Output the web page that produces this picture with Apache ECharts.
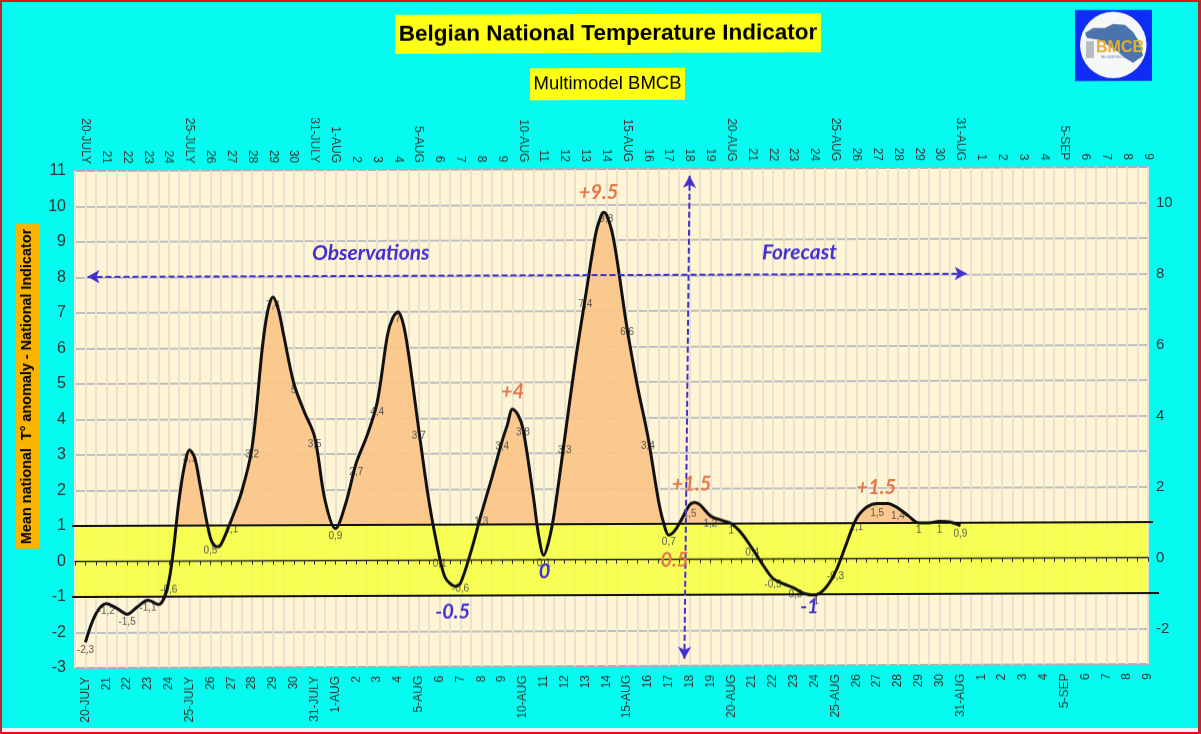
<!DOCTYPE html>
<html><head><meta charset="utf-8">
<style>
html,body{margin:0;padding:0;width:1201px;height:734px;overflow:hidden;background:#05fbef}
#chart{position:absolute;left:0;top:0;width:1201px;height:734px;transform-origin:75px 0;transform:skewY(-0.21deg)}
.b{position:absolute}
</style>
<script src="https://cdn.jsdelivr.net/npm/echarts@6/dist/echarts.min.js"></script>
</head><body>
<div id="chart"></div>
<div class="b" style="left:0;top:728px;width:1201px;height:4px;background:#f0f4f4"></div>
<div class="b" style="left:0;top:0;width:1201px;height:2px;background:#e01018"></div>
<div class="b" style="left:0;top:732px;width:1201px;height:2px;background:#e01018"></div>
<div class="b" style="left:0;top:0;width:2px;height:734px;background:#b02a30"></div>
<div class="b" style="right:0;top:0;width:3px;height:734px;background:#b02a30"></div>
<script>
const tickLabels = ['20-JULY','21','22','23','24','25-JULY','26','27','28','29','30','31-JULY','1-AUG','2','3','4','5-AUG','6','7','8','9','10-AUG','11','12','13','14','15-AUG','16','17','18','19','20-AUG','21','22','23','24','25-AUG','26','27','28','29','30','31-AUG','1','2','3','4','5-SEP','6','7','8','9'];
const dailyValues = [-2.3,-1.2,-1.5,-1.1,-0.6,3.1,0.5,1.1,3.2,7.4,5,3.5,0.9,2.7,4.4,7,3.7,0.1,-0.6,1.3,3.4,3.8,0.1,3.3,7.4,9.8,6.6,3.4,0.7,1.5,1.2,1,0.4,-0.5,-0.8,-1,-0.3,1.1,1.5,1.4,1,1,0.9];
const halfDayValues = [-2.28,-1.48,-1.19,-1.32,-1.49,-1.28,-1.1,-1.22,-0.58,1.75,3.13,2.15,0.65,0.46,1.15,1.95,3.2,6.05,7.43,6.4,5,4.2,3.49,1.7,0.9,1.62,2.75,3.49,4.44,6.35,7.0,5.85,3.68,1.62,0.07,-0.66,-0.65,0.23,1.3,2.3,3.35,4.25,3.7,1.78,0.13,1.3,3.4,5.53,7.4,9.2,9.72,8.5,6.5,4.87,3.45,1.67,0.68,1.0,1.53,1.53,1.22,1.1,1.0,0.72,0.3,-0.15,-0.55,-0.7,-0.82,-0.98,-1.02,-0.84,-0.37,0.38,1.12,1.45,1.55,1.55,1.42,1.2,1.0,1.0,1.04,1.02,0.92];
const extraDays = [4.75,5.25,6.3,8.75,9.25,14.75,15.25,17.25,17.75,20.25,20.75,21.75,22.25,24.75,24.87,25.25,27.75,28.25,29.25];
const extraValues = [2.67,2.9,0.4,7.04,7.1,6.83,6.67,-0.47,-0.74,3.8,4.1,0.7,0.55,9.68,9.78,9.29,1.03,0.78,1.6];
const noteTexts = ['Observations','Forecast','+9.5','+4','+1.5','0.5','+1.5','-0.5','0','-1'];
const noteDays = [13.7,34.27,24.63,20.5,29.09,28.27,37.96,17.63,22.04,34.75];
const noteLevels = [8.66,8.62,10.35,4.73,2.12,-0.02,1.99,-1.46,-0.34,-1.36];
const noteWarm = [false,false,true,true,true,true,true,false,false,false];
const bandLevels = [-1,1];
const yTop = 11, yBottom = -3, lastDay = 51;

const BLUE='#4030d0', WARM='#e4784c', TEXT='#333', CLEAR='rgba(0,0,0,0)';
const curvePts = halfDayValues.map((v,i)=>[i/2,v]).concat(extraDays.map((d,i)=>[d,extraValues[i]])).sort((a,b)=>a[0]-b[0]);
const sk=(x,y)=>y+(x-75)*0.00367;
const xLabel=v=>Number.isInteger(v)?tickLabels[v]:'';
const xBase={type:'value',min:-0.5,max:lastDay,interval:0.5,gridIndex:0,splitLine:{show:false},axisTick:{show:false},axisLine:{show:false,onZero:false}};
const labelAxis=pos=>Object.assign({},xBase,{position:pos,axisLabel:{show:true,rotate:90,interval:0,formatter:xLabel,fontFamily:'Liberation Sans',fontSize:12,color:TEXT,margin:pos==='top'?7:9,hideOverlap:false,showMinLabel:true,showMaxLabel:true}});
const boxText=(cx,cy,w,h,text,font,fill,rot)=>({type:'group',x:cx,y:sk(cx,cy),rotation:rot||0,silent:true,z:20,children:[
 {type:'rect',shape:{x:-w/2,y:-h/2,width:w,height:h},style:{fill}},
 {type:'text',style:{x:0,y:0,text,font,fill:'#000',align:'center',verticalAlign:'middle'}}]});
const stub=(x1,x2,y)=>({type:'line',silent:true,z:20,shape:{x1,y1:y,x2,y2:y},style:{stroke:'#111',lineWidth:2}});
const option={
 animation:false,
 backgroundColor:'transparent',
 grid:{left:75,top:171,width:1073,height:497,show:true,backgroundColor:'#fff4d3',borderColor:'#b9b9b9',borderWidth:2,containLabel:false},
 xAxis:[
  Object.assign({},xBase,{position:'bottom',splitLine:{show:true,lineStyle:{color:'#e8e2d3',width:2}},axisLabel:labelAxis('bottom').axisLabel}),
  labelAxis('top'),
  Object.assign({},xBase,{position:'bottom',z:5,axisLine:{show:true,onZero:true,lineStyle:{color:'#2a2a20',width:1.4}},axisTick:{show:true,length:4,lineStyle:{color:'#2a2a20',width:1}},axisLabel:{show:false}})
 ],
 yAxis:[
  {type:'value',position:'left',min:yBottom,max:yTop,interval:1,axisLine:{show:false},axisTick:{show:false},splitLine:{show:true,lineStyle:{color:'#adadb8',width:1.5}},axisLabel:{fontFamily:'Liberation Sans',fontSize:16,color:TEXT,margin:9,showMinLabel:true,showMaxLabel:true}},
  {type:'value',position:'right',min:yBottom,max:yTop,interval:1,axisLine:{show:false},axisTick:{show:false},splitLine:{show:false},axisLabel:{fontFamily:'Liberation Sans',fontSize:15,color:TEXT,margin:8,formatter:v=>v%2===0?String(v):''}}
 ],
 visualMap:[{show:false,seriesIndex:0,dimension:1,pieces:[{min:1,max:20,color:'#fbc588'},{min:-20,max:1,color:CLEAR}]}],
 series:[
  {name:'warm',type:'line',smooth:0.33,data:curvePts,showSymbol:false,silent:true,lineStyle:{width:0,opacity:0},areaStyle:{origin:bandLevels[1],opacity:0.93},z:3},
  {name:'labels',type:'scatter',data:dailyValues.map((v,i)=>[i,v]),symbolSize:1,silent:true,z:4,itemStyle:{color:CLEAR,opacity:1},label:{show:true,position:'bottom',distance:2,fontFamily:'Liberation Sans',fontSize:10,color:'#555',formatter:p=>String(p.value[1]).replace('.',',')}},
  {name:'curve',type:'line',smooth:0.33,data:curvePts,showSymbol:false,silent:true,lineStyle:{color:'#111',width:3},z:6},
  {name:'upper',type:'line',data:[[-0.5,bandLevels[1]],[lastDay,bandLevels[1]]],showSymbol:false,silent:true,lineStyle:{color:'#111',width:2},z:5,
    markArea:{silent:true,z:2,itemStyle:{color:'rgba(245,255,60,0.84)'},data:[[{coord:[-0.5,bandLevels[0]]},{coord:[lastDay,bandLevels[1]]}]]}},
  {name:'lower',type:'line',data:[[-0.5,bandLevels[0]],[lastDay,bandLevels[0]]],showSymbol:false,silent:true,lineStyle:{color:'#111',width:2},z:5,
    markLine:{silent:true,z:7,symbol:['arrow','arrow'],symbolSize:[10,12],label:{show:false},lineStyle:{color:BLUE,type:[6,3],width:2},data:[
    [{coord:[0.1,8.02]},{coord:[42.3,8.02]}],
    [{coord:[29,10.8]},{coord:[28.75,-2.8]}]
  ]}},
  {name:'notes',type:'scatter',symbolSize:1,silent:true,z:8,itemStyle:{color:CLEAR,opacity:1},label:{show:true,position:'inside',fontFamily:'Lato',fontWeight:'bold',fontStyle:'italic',fontSize:20,color:BLUE,formatter:p=>noteTexts[p.dataIndex]},
   data:noteDays.map((d,i)=>({value:[d,noteLevels[i]],label:{color:noteWarm[i]?WARM:BLUE,fontSize:i<2?21:20}}))}
 ],
 graphic:[
  stub(72,76,526),stub(1147,1153,526),stub(72,76,597),stub(1147,1159,597),
  boxText(608,33.5,426,39,'Belgian National Temperature Indicator','bold 22.5px "Liberation Sans"','#ffff14'),
  boxText(607.5,84,155,32,'Multimodel BMCB','18.5px "Liberation Sans"','#ffff14'),
  boxText(27.5,386.5,325,25,'Mean national  T° anomaly - National Indicator','bold 14.4px "Liberation Sans"','#f9b400',Math.PI/2),
  {type:'group',x:0,y:(1113-75)*0.00367,silent:true,z:20,children:[
   {type:'rect',shape:{x:1075,y:10,width:77,height:71},style:{fill:'#0e2cf5'}},
   {type:'circle',shape:{cx:1113.3,cy:45,r:33.3},style:{fill:'#f6f8f8'}},
   {type:'polygon',shape:{points:[[1085,33],[1093,28],[1105,28],[1113,24],[1125,25],[1133,32],[1138,40],[1142,52],[1143,56],[1133,63],[1125,58],[1118,52],[1100,40],[1087,38]]},style:{fill:'#4c74ac'}},
   {type:'rect',shape:{x:1086,y:41,width:8,height:17},style:{fill:'#b8bcc0'}},
   {type:'text',style:{x:1120,y:48,text:'BMCB',font:'bold 16px "Liberation Sans"',fill:'#e6b030',align:'center',verticalAlign:'middle'}},
   {type:'text',style:{x:1118,y:57,text:'BELGIUM MULTIMODEL',font:'3px "Liberation Sans"',fill:'#5a7ab0',align:'center',verticalAlign:'middle'}}
  ]}
 ]
};
const chart=echarts.init(document.getElementById('chart'),null,{renderer:'canvas'});
chart.setOption(option);
</script>
</body></html>
